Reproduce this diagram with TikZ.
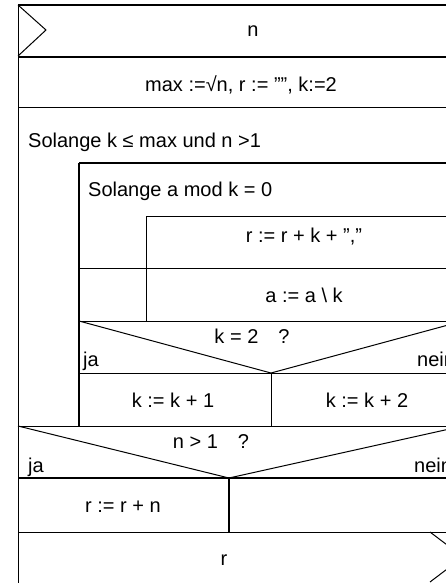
\documentclass[tikz,border=0pt]{standalone}
\usepackage{fontspec}
\setmainfont{Liberation Sans}
\begin{document}
\begin{tikzpicture}[x=1pt,y=-1pt,
  thinline/.style={line width=1pt,black},
  thickline/.style={line width=2pt,black},
  txt/.style={inner sep=0pt,anchor=base,font=\fontsize{20}{23}\selectfont},
  ltxt/.style={txt,anchor=base west}]
\useasboundingbox (0,0) rectangle (446,583);
\begin{scope}
\clip (0,0) rectangle (446,583);
% horizontal lines
\draw[thickline] (18,5) -- (463,5);
\draw[thickline] (18,57) -- (463,57);
\draw[thinline] (18,108) -- (463,108);
\draw[thickline] (79,163) -- (463,163);
\draw[thinline] (146,216) -- (463,216);
\draw[thinline] (79,268) -- (463,268);
\draw[thinline] (79,321) -- (463,321);
\draw[thinline] (79,373) -- (463,373);
\draw[thinline] (18,426) -- (463,426);
\draw[thickline] (18,478) -- (463,478);
\draw[thinline] (18,532) -- (463,532);
\draw[thinline] (18,585) -- (463,585);
% vertical lines
\draw[thinline] (18,5) -- (18,585);
\draw[thickline] (79,163) -- (79,426);
\draw[thinline] (146,216) -- (146,321);
\draw[thinline] (271,373) -- (271,426);
\draw[thickline] (229,478) -- (229,532);
\draw[thinline] (463,5) -- (463,585);
% diagonals
\draw[thinline] (18,5) -- (46,30) -- (18,56);
\draw[thinline] (79,321) -- (271,373) -- (463,321);
\draw[thinline] (18,426) -- (229,478) -- (463,426);
\draw[thinline] (430,532) -- (463,557) -- (430,582);
\end{scope}
% texts
\node[txt] (tin) at (253,37) {n};
\node[txt] (tinit) at (241,92) {max :=\char"221A n, r := "", k:=2};
\node[ltxt] (tw1) at (28,147) {Solange k \char"2264{} max und n >1};
\node[ltxt] (tw2) at (88,196) {Solange a mod k = 0};
\node[txt] (ta1) at (304,242) {r := r + k + ","};
\node[txt] (ta2) at (304,302) {a := a \textbackslash{} k};
\node[txt] (tc1) at (252,343) {k = 2\hspace{20pt}?};
\node[ltxt] (tja1) at (83,366) {ja};
\node[ltxt] (tnein1) at (417,366) {nein};
\node[txt] (tk1) at (173,407) {k := k + 1};
\node[txt] (tk2) at (367,407) {k := k + 2};
\node[txt] (tc2) at (211,448) {n > 1\hspace{20pt}?};
\node[ltxt] (tja2) at (28,472) {ja};
\node[ltxt] (tnein2) at (414,472) {nein};
\node[txt] (trn) at (123,512) {r := r + n};
\node[txt] (tout) at (224,565) {r};
\end{tikzpicture}
\end{document}
